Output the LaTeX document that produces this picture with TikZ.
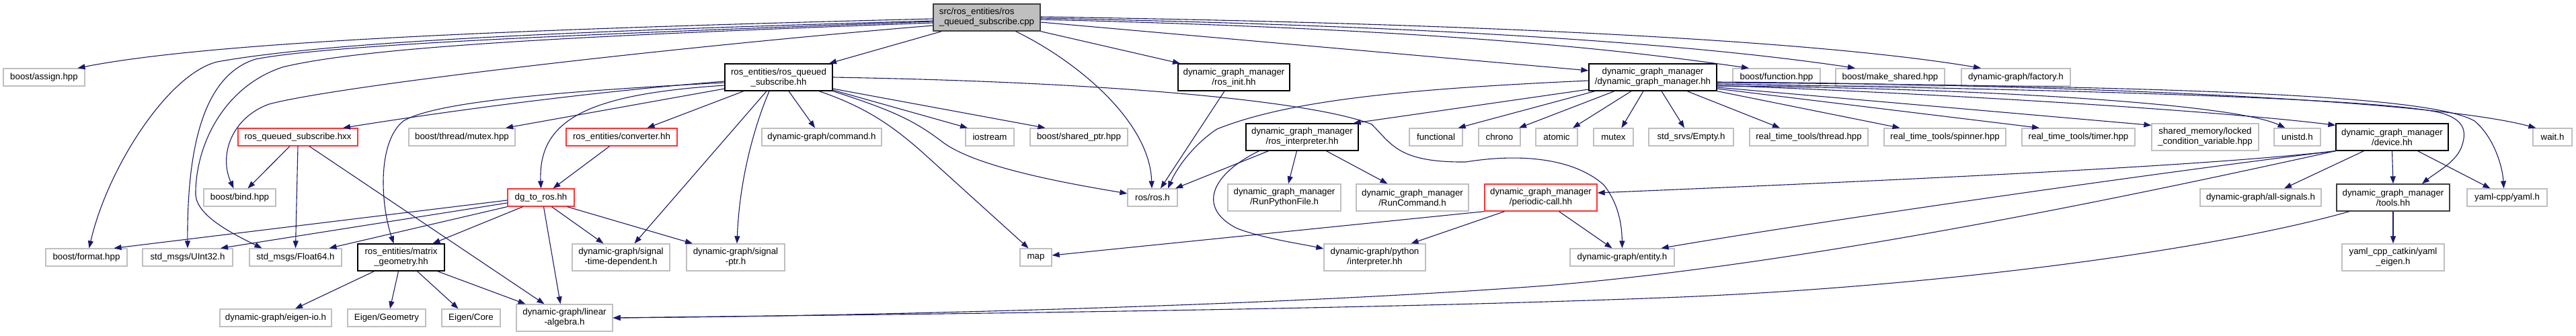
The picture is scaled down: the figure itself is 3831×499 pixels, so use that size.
\documentclass[tikz,border=0pt]{standalone}
\usepackage{fontspec}
\setmainfont{Liberation Sans}
\usetikzlibrary{arrows.meta}
\definecolor{edgec}{HTML}{191970}
\definecolor{extgray}{HTML}{BFBFBF}
\definecolor{truncred}{HTML}{FF3333}
\definecolor{rootfill}{HTML}{BFBFBF}
\definecolor{rootdraw}{HTML}{404040}
\begin{document}
\begin{tikzpicture}[x=1pt,y=-1pt,
  nbox/.style={draw, fill=white, line width=1.3pt, inner sep=0pt, minimum height=26pt, align=center, font=\fontsize{13.3pt}{15pt}\selectfont, text=black},
  twol/.style={minimum height=40pt},
  ext/.style={draw=extgray},
  doc/.style={draw=black},
  docdark/.style={draw=rootdraw},
  trunc/.style={draw=truncred},
  root/.style={draw=rootdraw, fill=rootfill, align=left},
  dep/.style={draw=edgec, line width=1.1pt, -{Triangle[length=11pt,width=8pt]}}]
\fill[white] (0,0) rectangle (3831,499);
\useasboundingbox (0,0) rectangle (3831,499);

% row 0
\node[nbox,root,twol,minimum width=159pt] (main) at (1467.5,26) {src/ros\_entities/ros\\\_queued\_subscribe.cpp};
% row 1
\node[nbox,ext,minimum width=121pt] (assign) at (65.5,115) {boost/assign.hpp};
\node[nbox,doc,twol,minimum width=160pt] (rqshh) at (1158,115) {ros\_entities/ros\_queued\\\_subscribe.hh};
\node[nbox,doc,twol,minimum width=166pt] (rosinit) at (1835,115) {dynamic\_graph\_manager\\/ros\_init.hh};
\node[nbox,doc,twol,minimum width=190pt] (dgmhh) at (2458,115) {dynamic\_graph\_manager\\/dynamic\_graph\_manager.hh};
\node[nbox,ext,minimum width=130pt] (bfunction) at (2642,115) {boost/function.hpp};
\node[nbox,ext,minimum width=162pt] (bmakeshared) at (2811,115) {boost/make\_shared.hpp};
\node[nbox,ext,minimum width=162pt] (factory) at (2998,115) {dynamic-graph/factory.h};
% row 2
\node[nbox,trunc,minimum width=178pt] (hxx) at (443,204) {ros\_queued\_subscribe.hxx};
\node[nbox,ext,minimum width=158pt] (bmutex) at (687,204) {boost/thread/mutex.hpp};
\node[nbox,trunc,minimum width=165pt] (converter) at (924.5,204) {ros\_entities/converter.hh};
\node[nbox,ext,minimum width=178pt] (command) at (1222,204) {dynamic-graph/command.h};
\node[nbox,ext,minimum width=72pt] (iostream) at (1472,204) {iostream};
\node[nbox,ext,minimum width=145pt] (sharedptr) at (1604.5,204) {boost/shared\_ptr.hpp};
\node[nbox,doc,twol,minimum width=167pt] (rosinterp) at (1936.5,204) {dynamic\_graph\_manager\\/ros\_interpreter.hh};
\node[nbox,ext,minimum width=79pt] (functional) at (2135.5,204) {functional};
\node[nbox,ext,minimum width=62pt] (chrono) at (2230,204) {chrono};
\node[nbox,ext,minimum width=62pt] (atomic) at (2315,204) {atomic};
\node[nbox,ext,minimum width=59pt] (mutex) at (2399.5,204) {mutex};
\node[nbox,ext,minimum width=126pt] (empty) at (2515,204) {std\_srvs/Empty.h};
\node[nbox,ext,minimum width=176pt] (rtthread) at (2690,204) {real\_time\_tools/thread.hpp};
\node[nbox,ext,minimum width=181pt] (rtspinner) at (2892.5,204) {real\_time\_tools/spinner.hpp};
\node[nbox,ext,minimum width=168pt] (rttimer) at (3091,204) {real\_time\_tools/timer.hpp};
\node[nbox,ext,twol,minimum width=159pt] (shmem) at (3279.5,204) {shared\_memory/locked\\\_condition\_variable.hpp};
\node[nbox,ext,minimum width=69pt] (unistd) at (3416.5,204) {unistd.h};
\node[nbox,doc,twol,minimum width=167pt] (device) at (3557.5,204) {dynamic\_graph\_manager\\/device.hh};
\node[nbox,ext,minimum width=58pt] (wait) at (3796,204) {wait.h};
% row 3
\node[nbox,ext,minimum width=107pt] (bind) at (356.5,294) {boost/bind.hpp};
\node[nbox,trunc,minimum width=99pt] (dgtoros) at (804.5,294) {dg\_to\_ros.hh};
\node[nbox,ext,minimum width=74pt] (rosh) at (1714,294) {ros/ros.h};
\node[nbox,ext,twol,minimum width=168pt] (runpython) at (1910,294) {dynamic\_graph\_manager\\/RunPythonFile.h};
\node[nbox,ext,twol,minimum width=167pt] (runcommand) at (2100.5,294) {dynamic\_graph\_manager\\/RunCommand.h};
\node[nbox,trunc,twol,minimum width=167pt] (periodic) at (2291.5,294) {dynamic\_graph\_manager\\/periodic-call.hh};
\node[nbox,ext,minimum width=180pt] (allsignals) at (3362,294) {dynamic-graph/all-signals.h};
\node[nbox,docdark,twol,minimum width=168pt] (tools) at (3559,294) {dynamic\_graph\_manager\\/tools.hh};
\node[nbox,ext,minimum width=119pt] (yaml) at (3728.5,294) {yaml-cpp/yaml.h};
% row 4
\node[nbox,ext,minimum width=121pt] (format) at (128.5,383) {boost/format.hpp};
\node[nbox,ext,minimum width=134pt] (uint32) at (279,383) {std\_msgs/UInt32.h};
\node[nbox,ext,minimum width=137pt] (float64) at (439.5,383) {std\_msgs/Float64.h};
\node[nbox,doc,twol,minimum width=129pt] (matrix) at (596.5,383) {ros\_entities/matrix\\\_geometry.hh};
\node[nbox,ext,twol,minimum width=145pt] (sigtime) at (923.5,383) {dynamic-graph/signal\\-time-dependent.h};
\node[nbox,ext,twol,minimum width=146pt] (sigptr) at (1094,383) {dynamic-graph/signal\\-ptr.h};
\node[nbox,ext,minimum width=47pt] (map) at (1540.5,383) {map};
\node[nbox,ext,twol,minimum width=151pt] (pyinterp) at (2044.5,383) {dynamic-graph/python\\/interpreter.hh};
\node[nbox,ext,minimum width=155pt] (entity) at (2412.5,383) {dynamic-graph/entity.h};
\node[nbox,ext,twol,minimum width=152pt] (yamleigen) at (3559,383) {yaml\_cpp\_catkin/yaml\\\_eigen.h};
% row 5
\node[nbox,ext,minimum width=166pt] (eigenio) at (410,473) {dynamic-graph/eigen-io.h};
\node[nbox,ext,minimum width=116pt] (geometry) at (575,473) {Eigen/Geometry};
\node[nbox,ext,minimum width=87pt] (core) at (700.5,473) {Eigen/Core};
\node[nbox,ext,twol,minimum width=143pt] (linalg) at (839.5,473) {dynamic-graph/linear\\-algebra.h};

% ---- edges from main
\draw[dep] ([yshift=-2pt]main.west) .. controls (700,45) and (300,65) .. ([xshift=50pt]assign.north);
\draw[dep] ([yshift=-5pt]main.west) .. controls (900,45) and (500,60) .. (323,92) .. controls (250,110) and (160,250) .. ([xshift=4pt]format.north);
\draw[dep] ([yshift=-6pt]main.west) .. controls (900,50) and (500,65) .. (380,88) .. controls (310,110) and (278,200) .. (uint32.north);
\draw[dep] ([yshift=-8pt]main.west) .. controls (900,52) and (550,68) .. (420,100) .. controls (330,130) and (290,220) .. (291,290) .. controls (293,320) and (340,345) .. ([xshift=-50pt]float64.north);
\draw[dep] ([yshift=-12pt]main.west) .. controls (1000,70) and (500,128) .. (400,155) .. controls (345,175) and (325,230) .. ([xshift=-9pt]bind.north);
\draw[dep] ([xshift=-67pt]main.south) -- ([xshift=75pt]rqshh.north);
\draw[dep] ([xshift=43pt]main.south) .. controls (1600,90) and (1710,180) .. ([xshift=-1pt]rosh.north);
\draw[dep] (main.south east) -- ([xshift=-80pt]rosinit.north);
\draw[dep] ([yshift=-7pt]main.east) -- ([yshift=10pt]dgmhh.west);
\draw[dep] ([yshift=1pt]main.east) .. controls (2200,35) and (2700,60) .. ([xshift=-52pt]factory.north);
\draw[dep] ([yshift=-1pt]main.east) .. controls (2200,40) and (2550,70) .. ([xshift=-52pt]bmakeshared.north);
\draw[dep] ([yshift=-3pt]main.east) .. controls (2200,45) and (2450,80) .. ([xshift=-41pt]bfunction.north);

% ---- edges from ros_queued_subscribe.hh
\draw[dep] ([yshift=-6pt]rqshh.west) .. controls (900,135) and (700,160) .. ([xshift=67pt]hxx.north);
\draw[dep] ([yshift=-8pt]rqshh.west) .. controls (850,135) and (650,150) .. (600,180) .. controls (562,210) and (565,300) .. ([xshift=-11pt]matrix.north);
\draw[dep] ([yshift=-17pt]rqshh.west) -- ([xshift=65pt]bmutex.north);
\draw[dep] ([yshift=-12pt]rqshh.west) .. controls (880,140) and (800,175) .. (dgtoros.north);
\draw[dep] ([xshift=-52pt]rqshh.south) -- ([xshift=38pt]converter.north);
\draw[dep] ([xshift=-18pt]rqshh.south) -- ([xshift=20pt]sigtime.north);
\draw[dep] ([xshift=-14pt]rqshh.south) .. controls (1125,180) and (1100,260) .. ([xshift=2pt]sigptr.north);
\draw[dep] ([xshift=15pt]rqshh.south) -- ([xshift=-10pt]command.north);
\draw[dep] (rqshh.east) .. controls (1650,122) and (1950,150) .. (2040,185) .. controls (2070,215) and (2080,242) .. (2180,241) .. controls (2260,228) and (2340,235) .. (2385,275) .. controls (2405,300) and (2412,330) .. (entity.north);
\draw[dep] ([yshift=-17pt]rqshh.east) -- ([xshift=-50pt]sharedptr.north);
\draw[dep] ([yshift=-19pt]rqshh.east) -- ([xshift=-33pt]iostream.north);
\draw[dep] (rqshh.south east) .. controls (1330,165) and (1360,180) .. (1400,210) .. controls (1450,250) and (1600,275) .. ([yshift=6pt]rosh.west);
\draw[dep] ([xshift=60pt]rqshh.south) .. controls (1290,160) and (1330,190) .. (1370,225) -- ([xshift=-11pt]map.north);

% ---- edges from ros_queued_subscribe.hxx
\draw[dep] ([xshift=-12pt]hxx.south) -- ([xshift=12pt]bind.north);
\draw[dep] (hxx.south) -- (float64.north);
\draw[dep] ([xshift=17pt]hxx.south) -- ([xshift=-30pt]linalg.north);

% ---- converter
\draw[dep] ([xshift=-18pt]converter.south) -- ([xshift=18pt]dgtoros.north);

% ---- dg_to_ros
\draw[dep] ([yshift=-4pt]dgtoros.west) -- ([xshift=41pt]format.north);
\draw[dep] ([yshift=-8pt]dgtoros.west) -- ([xshift=49pt]uint32.north);
\draw[dep] (dgtoros.south west) -- ([xshift=50pt]float64.north);
\draw[dep] ([xshift=-27pt]dgtoros.south) -- ([xshift=47pt]matrix.north);
\draw[dep] ([xshift=4pt]dgtoros.south) -- ([xshift=-6pt]linalg.north);
\draw[dep] ([xshift=16pt]dgtoros.south) -- ([xshift=-26pt]sigtime.north);
\draw[dep] ([xshift=39pt]dgtoros.south) -- ([xshift=-64pt]sigptr.north);

% ---- matrix_geometry
\draw[dep] ([xshift=-40pt]matrix.south) -- ([xshift=29pt]eigenio.north);
\draw[dep] ([xshift=-4pt]matrix.south) -- ([xshift=5pt]geometry.north);
\draw[dep] ([xshift=24pt]matrix.south) -- ([xshift=-19pt]core.north);
\draw[dep] ([xshift=54pt]matrix.south) -- ([xshift=-58pt]linalg.north);

% ---- ros_init
\draw[dep] ([xshift=-14pt]rosinit.south) -- ([xshift=12pt]rosh.north);

% ---- dynamic_graph_manager.hh
\draw[dep] ([yshift=-5pt]dgmhh.west) .. controls (2100,132) and (1920,148) .. (1810,192) .. controls (1775,215) and (1750,250) .. ([xshift=23pt]rosh.north);
\draw[dep] ([yshift=-18pt]dgmhh.west) -- ([xshift=-8pt]rosinterp.north east);
\draw[dep] ([xshift=-86pt]dgmhh.south) -- ([xshift=33pt]functional.north);
\draw[dep] ([xshift=-57pt]dgmhh.south) -- ([xshift=29pt]chrono.north);
\draw[dep] ([xshift=-32pt]dgmhh.south) -- ([xshift=24pt]atomic.north);
\draw[dep] ([xshift=-14pt]dgmhh.south) -- ([xshift=12pt]mutex.north);
\draw[dep] ([xshift=13pt]dgmhh.south) -- ([xshift=-10pt]empty.north);
\draw[dep] ([xshift=51pt]dgmhh.south) -- ([xshift=-43pt]rtthread.north);
\draw[dep] (dgmhh.south east) -- ([xshift=-67pt]rtspinner.north);
\draw[dep] ([yshift=-17pt]dgmhh.east) -- ([xshift=-58pt]rttimer.north);
\draw[dep] ([yshift=-15pt]dgmhh.east) -- ([yshift=-3pt]shmem.north west);
\draw[dep] ([yshift=-13pt]dgmhh.east) .. controls (2900,130) and (3318,152) .. ([xshift=-18pt]unistd.north);
\draw[dep] ([yshift=-12pt]dgmhh.east) .. controls (2900,140) and (3300,165) .. ([yshift=-3pt]device.north west);
\draw[dep] ([yshift=-7pt]dgmhh.east) .. controls (3000,125) and (3600,145) .. ([xshift=5pt]wait.north west);
\draw[dep] ([yshift=-10pt]dgmhh.east) .. controls (3200,135) and (3560,150) .. (3630,168) .. controls (3665,178) and (3668,195) .. (3662,215) .. controls (3655,240) and (3625,255) .. ([xshift=43pt]tools.north);
\draw[dep] ([yshift=-8pt]dgmhh.east) .. controls (3300,128) and (3620,145) .. (3680,180) .. controls (3710,205) and (3722,250) .. ([xshift=-5pt]yaml.north);

% ---- device.hh
\draw[dep] (device.south west) .. controls (3300,245) and (2900,265) .. ([yshift=7pt]periodic.east);
\draw[dep] (device.south west) .. controls (3200,258) and (2700,330) .. ([xshift=58pt]entity.north);
\draw[dep] (device.south west) .. controls (3200,285) and (2700,392) .. (2300,425) .. controls (1900,455) and (1300,470) .. (linalg.east);
\draw[dep] ([xshift=-42pt]device.south) -- ([xshift=35pt]allsignals.north);
\draw[dep] (device.south) -- (tools.north);
\draw[dep] ([xshift=38pt]device.south) -- ([xshift=-25pt]yaml.north);

% ---- tools.hh
\draw[dep] (tools.south) -- (yamleigen.north);
\draw[dep] ([xshift=-65pt]tools.south) .. controls (3300,370) and (2900,425) .. (2500,442) .. controls (2000,462) and (1300,468) .. (linalg.east);

% ---- periodic-call.hh
\draw[dep] ([xshift=-54pt]periodic.south) -- ([xshift=54pt]pyinterp.north);
\draw[dep] ([xshift=27pt]periodic.south) -- ([xshift=-15pt]entity.north);
\draw[dep] (periodic.south west) -- ([yshift=3pt]map.east);

% ---- ros_interpreter.hh
\draw[dep] ([xshift=-50pt]rosinterp.south) -- ([xshift=34pt]rosh.north);
\draw[dep] ([xshift=-8pt]rosinterp.south) -- ([xshift=6pt]runpython.north);
\draw[dep] ([xshift=36pt]rosinterp.south) -- ([xshift=-37pt]runcommand.north);
\draw[dep] ([xshift=-64pt]rosinterp.south) .. controls (1800,260) and (1780,310) .. (1840,340) .. controls (1880,355) and (1930,362) .. ([yshift=13pt]pyinterp.west);
\end{tikzpicture}
\end{document}
